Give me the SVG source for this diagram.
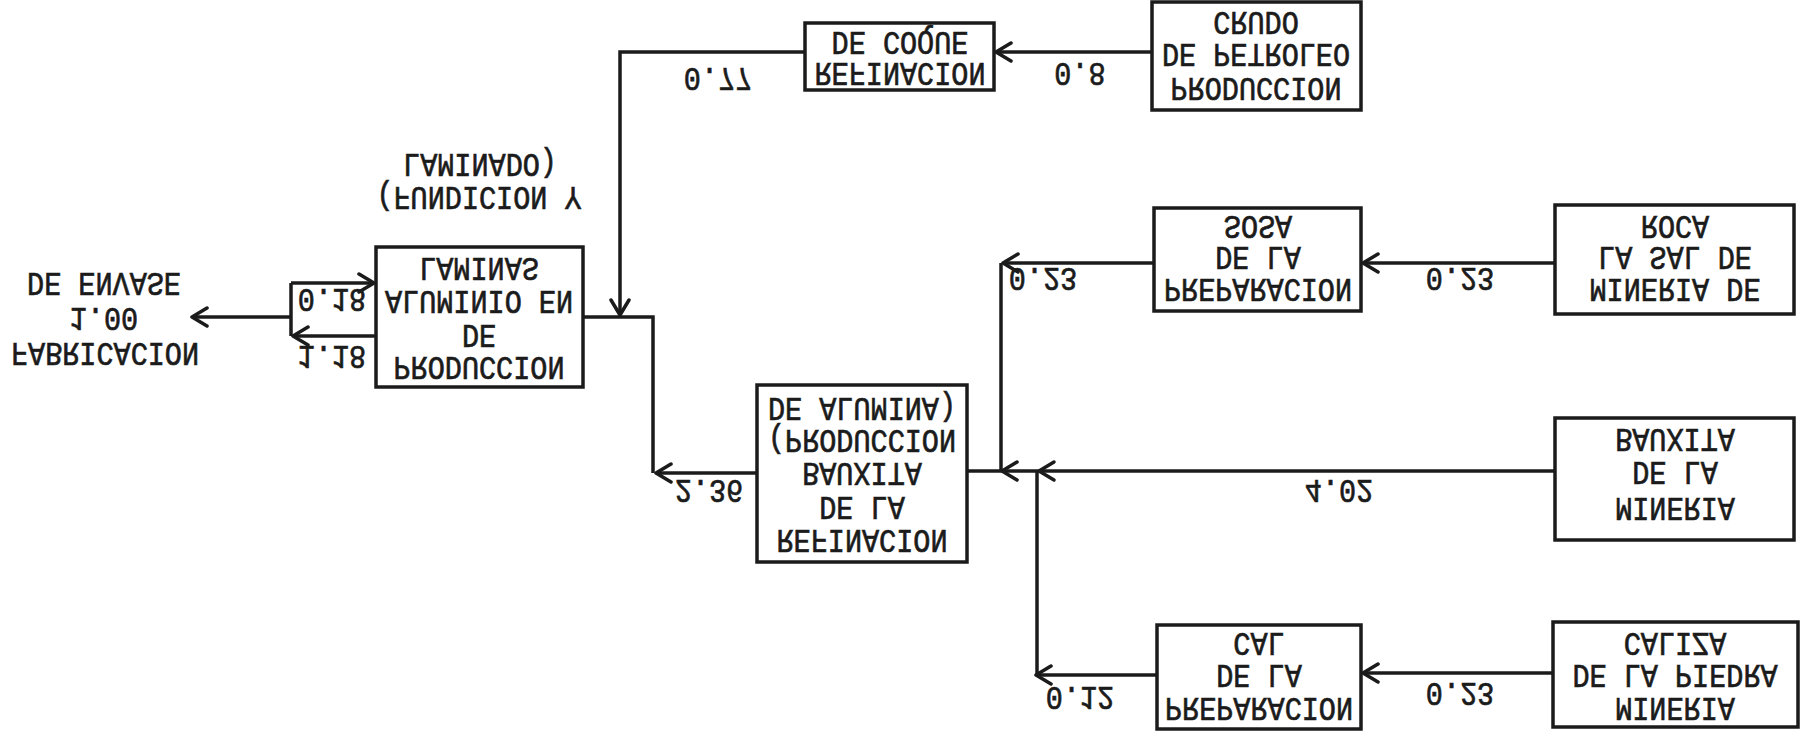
<svg xmlns="http://www.w3.org/2000/svg" xmlns:xlink="http://www.w3.org/1999/xlink" width="1809" height="739" viewBox="0 0 1809 739">
<style>
.box{fill:#fff;stroke:#1b1b1b;stroke-width:3.5}
.ln{fill:none;stroke:#1b1b1b;stroke-width:3.5}
.t{font-family:"Liberation Mono","DejaVu Sans Mono",monospace;font-size:28.5px;fill:#1b1b1b;stroke:#1b1b1b;stroke-width:0.6;text-anchor:middle}
.ch{fill:none;stroke:#1b1b1b;stroke-width:3.5;stroke-linecap:round;stroke-linejoin:round}
</style>
<defs>
<marker id="ah" markerUnits="userSpaceOnUse" viewBox="-18 -11 20 22" markerWidth="20" markerHeight="22" refX="0" refY="0" orient="auto">
<path d="M-15,-9 L0,0 L-15,9" class="ch"/>
</marker>
<path id="chev" d="M15,-9 L0,0 L15,9" class="ch"/>
</defs>
<rect width="1809" height="739" fill="#fff"/>

<g id="connectors">
<line class="ln" x1="1152" y1="52" x2="996" y2="52" marker-end="url(#ah)"/>
<polyline class="ln" points="805,52 620,52 620,315" marker-end="url(#ah)"/>
<line class="ln" x1="1555" y1="263" x2="1363" y2="263" marker-end="url(#ah)"/>
<line class="ln" x1="1154" y1="263" x2="1003" y2="263" marker-end="url(#ah)"/>
<line class="ln" x1="1001" y1="263" x2="1001" y2="471"/>
<line class="ln" x1="1555" y1="471" x2="967" y2="471"/>
<use xlink:href="#chev" x="1002" y="471"/>
<use xlink:href="#chev" x="1039" y="471"/>
<line class="ln" x1="1553" y1="673" x2="1363" y2="673" marker-end="url(#ah)"/>
<line class="ln" x1="1157" y1="675" x2="1036" y2="675" marker-end="url(#ah)"/>
<line class="ln" x1="1037" y1="675" x2="1037" y2="471"/>
<line class="ln" x1="757" y1="473" x2="656" y2="473" marker-end="url(#ah)"/>
<polyline class="ln" points="653,473 653,317 583,317"/>
<line class="ln" x1="291" y1="283" x2="374" y2="283" marker-end="url(#ah)"/>
<line class="ln" x1="376" y1="336" x2="293" y2="336" marker-end="url(#ah)"/>
<line class="ln" x1="291" y1="283" x2="291" y2="336"/>
<line class="ln" x1="291" y1="317" x2="192" y2="317" marker-end="url(#ah)"/>
</g>

<g id="labels">
<text class="t" transform="matrix(1 0 0 -1.15 1080 63)">0.8</text>
<text class="t" transform="matrix(1 0 0 -1.15 718 68)">0.77</text>
<text class="t" transform="matrix(1 0 0 -1.15 1460 268)">0.23</text>
<text class="t" transform="matrix(1 0 0 -1.15 1043 268)">0.23</text>
<text class="t" transform="matrix(1 0 0 -1.15 1339 480)">4.02</text>
<text class="t" transform="matrix(1 0 0 -1.15 1460 683)">0.23</text>
<text class="t" transform="matrix(1 0 0 -1.15 1080 687)">0.12</text>
<text class="t" transform="matrix(1 0 0 -1.15 709 480)">2.36</text>
<text class="t" transform="matrix(1 0 0 -1.15 332 289)">0.18</text>
<text class="t" transform="matrix(1 0 0 -1.15 332 346)">1.18</text>
</g>

<g id="n-petroleo">
<rect class="box" x="1152" y="2" width="209" height="108"/>
<text class="t" transform="matrix(1 0 0 -1.15 1256 78)">PRODUCCION</text>
<text class="t" transform="matrix(1 0 0 -1.15 1256 44)">DE PETROLEO</text>
<text class="t" transform="matrix(1 0 0 -1.15 1256 12)">CRUDO</text>
</g>
<g id="n-coque">
<rect class="box" x="805" y="23" width="189" height="67"/>
<text class="t" transform="matrix(1 0 0 -1.15 900 63)">REFINACION</text>
<text class="t" transform="matrix(1 0 0 -1.15 900 32)">DE COQUE</text>
</g>
<g id="n-sosa">
<rect class="box" x="1154" y="208" width="207" height="103"/>
<text class="t" transform="matrix(1 0 0 -1.15 1258 279)">PREPARACION</text>
<text class="t" transform="matrix(1 0 0 -1.15 1258 247)">DE LA</text>
<text class="t" transform="matrix(1 0 0 -1.15 1258 216)">SOSA</text>
</g>
<g id="n-sal">
<rect class="box" x="1555" y="205" width="239" height="109"/>
<text class="t" transform="matrix(1 0 0 -1.15 1675 279)">MINERIA DE</text>
<text class="t" transform="matrix(1 0 0 -1.15 1675 247)">LA SAL DE</text>
<text class="t" transform="matrix(1 0 0 -1.15 1675 216)">ROCA</text>
</g>
<g id="n-bauxita">
<rect class="box" x="1555" y="418" width="239" height="122"/>
<text class="t" transform="matrix(1 0 0 -1.15 1675 498)">MINERIA</text>
<text class="t" transform="matrix(1 0 0 -1.15 1675 462)">DE LA</text>
<text class="t" transform="matrix(1 0 0 -1.15 1675 429)">BAUXITA</text>
</g>
<g id="n-refinacion">
<rect class="box" x="757" y="385" width="210" height="177"/>
<text class="t" transform="matrix(1 0 0 -1.15 862 530)">REFINACION</text>
<text class="t" transform="matrix(1 0 0 -1.15 862 497)">DE LA</text>
<text class="t" transform="matrix(1 0 0 -1.15 862 463)">BAUXITA</text>
<text class="t" transform="matrix(1 0 0 -1.15 862 430)">(PRODUCCION</text>
<text class="t" transform="matrix(1 0 0 -1.15 862 398)">DE ALUMINA)</text>
</g>
<g id="n-cal">
<rect class="box" x="1157" y="625" width="204" height="104"/>
<text class="t" transform="matrix(1 0 0 -1.15 1259 698)">PREPARACION</text>
<text class="t" transform="matrix(1 0 0 -1.15 1259 665)">DE LA</text>
<text class="t" transform="matrix(1 0 0 -1.15 1259 633)">CAL</text>
</g>
<g id="n-caliza">
<rect class="box" x="1553" y="622" width="245" height="105"/>
<text class="t" transform="matrix(1 0 0 -1.15 1675 698)">MINERIA</text>
<text class="t" transform="matrix(1 0 0 -1.15 1675 665)">DE LA PIEDRA</text>
<text class="t" transform="matrix(1 0 0 -1.15 1675 633)">CALIZA</text>
</g>
<g id="n-aluminio">
<rect class="box" x="376" y="247" width="207" height="140"/>
<text class="t" transform="matrix(1 0 0 -1.15 479 357)">PRODUCCION</text>
<text class="t" transform="matrix(1 0 0 -1.15 479 325)">DE</text>
<text class="t" transform="matrix(1 0 0 -1.15 479 291)">ALUMINIO EN</text>
<text class="t" transform="matrix(1 0 0 -1.15 479 258)">LAMINAS</text>
</g>
<g id="n-fabricacion">
<text class="t" transform="matrix(1 0 0 -1.15 105 343)">FABRICACION</text>
<text class="t" transform="matrix(1 0 0 -1.15 104 308)">1.00</text>
<text class="t" transform="matrix(1 0 0 -1.15 104 273)">DE ENVASE</text>
</g>
<g id="n-fundicion">
<text class="t" transform="matrix(1 0 0 -1.15 479 187)">(FUNDICION Y</text>
<text class="t" transform="matrix(1 0 0 -1.15 480 154)">LAMINADO)</text>
</g>
</svg>
